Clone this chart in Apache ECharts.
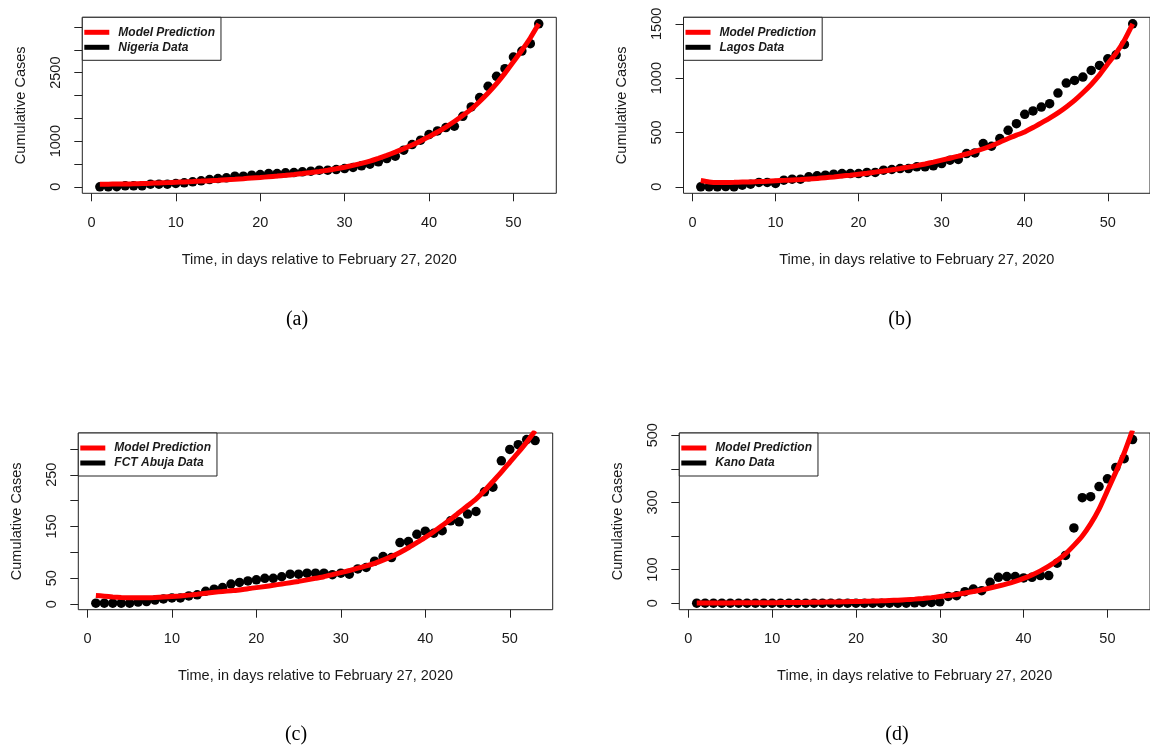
<!DOCTYPE html>
<html><head><meta charset="utf-8">
<script src="https://cdn.jsdelivr.net/npm/echarts@6/dist/echarts.min.js"></script>
<style>html,body{margin:0;padding:0;background:#fff}#c{width:1150px;height:747px}</style>
</head><body><div id="c"></div>
<script>
const days = [1,2,3,4,5,6,7,8,9,10,11,12,13,14,15,16,17,18,19,20,21,22,23,24,25,26,27,28,29,30,31,32,33,34,35,36,37,38,39,40,41,42,43,44,45,46,47,48,49,50,51,52,53];

const nigeriaData = [1,1,2,22,22,22,58,58,58,73,87,109,131,160,182,197,233,233,255,270,292,292,306,313,328,343,365,365,379,401,423,459,496,547,620,671,802,925,1021,1145,1225,1298,1327,1545,1749,1954,2202,2420,2588,2843,2974,3135,3570];
const nigeriaModel = [58,59,61,63,66,72,78,85,92,100,108,116,125,135,145,156,167,179,192,205,220,235,252,270,290,312,336,363,395,430,470,515,565,625,690,760,835,915,1005,1100,1200,1310,1430,1560,1700,1870,2055,2260,2490,2740,2990,3260,3570];

const lagosData = [0,0,0,2,0,15,24,40,40,31,61,70,70,92,101,107,116,122,122,122,132,132,153,159,168,168,184,184,193,214,245,251,306,312,398,373,444,520,581,667,698,734,765,863,955,979,1010,1071,1117,1178,1215,1310,1500];
const lagosModel = [58,45,40,40,41,43,45,48,51,55,59,63,67,72,77,84,91,99,107,116,125,135,145,156,168,181,195,210,227,245,263,282,302,325,350,378,410,444,475,505,545,588,632,680,735,795,865,942,1030,1132,1230,1350,1500];

const abujaData = [2,2,2,2,2,4,5,8,10,12,12,16,18,25,29,32,39,42,45,47,50,50,53,58,58,60,60,60,57,60,58,68,71,83,92,90,119,121,135,141,137,142,161,159,174,179,217,226,277,299,308,318,316];
const abujaModel = [17,15.5,14,13,12.5,12.5,12.5,13,14,15,16,17.5,19,21,23,24.5,26,27.5,30,32,34,36.5,39,41.5,44,47,50,53,57,61,65,69.5,74,79,85,92,100,109,119,129,140,152,164,177,190,203,219,237,255,274,293,313,335];

const kanoData = [0,0,0,0,0,0,0,0,0,0,0,0,0,0,0,0,0,0,0,0,0,0,0,0,0,0,1,2,2,4,20,22,34,42,37,62,77,79,79,75,77,82,82,119,142,224,314,317,347,370,404,430,487];
const kanoModel = [0.5,0.5,0.6,0.7,0.8,0.9,1,1.1,1.2,1.4,1.6,1.8,2,2.3,2.6,3,3.4,3.8,4.3,4.9,5.5,6.2,7,8,9,10.5,12,14,16.5,19.5,22.5,26,30,34.5,39.5,45,51,57.5,65,74,84,96,110,127,147,172,200,236,280,335,390,447,515];

const xTicks = [0,10,20,30,40,50];
const yTicksA = [0,500,1000,1500,2000,2500,3000,3500];
const yLabelsA = [0,1000,2500];
const yTicksB = [0,500,1000,1500];
const yLabelsB = [0,500,1000,1500];
const yTicksC = [0,50,100,150,200,250,300];
const yLabelsC = [0,50,150,250];
const yTicksD = [0,100,200,300,400,500];
const yLabelsD = [0,100,300,500];

const modelName = 'Model Prediction';
const dataNames = ['Nigeria Data','Lagos Data','FCT Abuja Data','Kano Data'];
const captions = ['(a)','(b)','(c)','(d)'];
const xTitle = 'Time, in days relative to February 27, 2020';
const yTitle = 'Cumulative Cases';

const dataSets = [nigeriaData, lagosData, abujaData, kanoData];
const modelSets = [nigeriaModel, lagosModel, abujaModel, kanoModel];
const yTickSets = [yTicksA, yTicksB, yTicksC, yTicksD];
const yLabelSets = [yLabelsA, yLabelsB, yLabelsC, yLabelsD];

// layout (pixels)
const layout = [
  {left:82.3, top:17.3, width:474, height:176, cap:[297,320]},
  {left:683.5, top:17.3, width:475, height:176, cap:[900,320]},
  {left:78.3, top:433, width:474.4, height:176.7, cap:[296,735]},
  {left:679.3, top:433, width:475, height:176.7, cap:[897,735]}
];

function ext(arr){
  const mn = Math.min.apply(null, arr), mx = Math.max.apply(null, arr);
  const d = (mx - mn) * 0.04;
  return [mn - d, mx + d];
}
function plain(v){ return String(v); }
const xr = ext(days);
const FONT = 'Liberation Sans';
const TXT = '#1a1a1a';

const grid = [], xAxis = [], yAxis = [], series = [], legend = [], graphic = [];
layout.forEach(function(L, k){
  grid.push({left:L.left, top:L.top, width:L.width, height:L.height, show:true,
    borderColor:'#222', borderWidth:1, backgroundColor:'transparent', containLabel:false});
  xAxis.push({gridIndex:k, type:'value', min:xr[0], max:xr[1],
    axisLine:{show:false, onZero:false},
    axisTick:{show:true, customValues:xTicks, length:8, lineStyle:{color:'#222', width:1}},
    axisLabel:{show:true, customValues:xTicks, formatter:plain, fontFamily:FONT, fontSize:14.5, color:TXT, margin:22},
    splitLine:{show:false},
    name:xTitle, nameLocation:'middle', nameGap:59,
    nameTextStyle:{fontFamily:FONT, fontSize:14.5, color:TXT}});
  const yr = ext(dataSets[k]);
  yAxis.push({gridIndex:k, type:'value', min:yr[0], max:yr[1],
    axisLine:{show:false, onZero:false},
    axisTick:{show:true, customValues:yTickSets[k], length:8, lineStyle:{color:'#222', width:1}},
    axisLabel:{show:true, customValues:yLabelSets[k], formatter:plain, rotate:90, fontFamily:FONT, fontSize:14.5, color:TXT, margin:19},
    splitLine:{show:false},
    name:yTitle, nameLocation:'middle', nameRotate:90, nameGap:54,
    nameTextStyle:{fontFamily:FONT, fontSize:14.5, color:TXT}});
  series.push({type:'scatter', name:dataNames[k], xAxisIndex:k, yAxisIndex:k,
    data:days.map(function(d,i){return [d, dataSets[k][i]];}),
    symbol:'circle', symbolSize:9.5, itemStyle:{color:'#000', opacity:1}, z:2, silent:true});
  series.push({type:'line', name:modelName, xAxisIndex:k, yAxisIndex:k,
    data:days.map(function(d,i){return [d, modelSets[k][i]];}),
    showSymbol:false, smooth:0.2, clip:true,
    lineStyle:{color:'#ff0000', width:5}, itemStyle:{color:'#ff0000'}, z:3, silent:true});
  legend.push({left:L.left, top:L.top, orient:'vertical', selectedMode:false,
    data:[{name:modelName, icon:'rect', itemStyle:{color:'#ff0000'}},
          {name:dataNames[k], icon:'rect', itemStyle:{color:'#000'}}],
    itemWidth:25, itemHeight:5, itemGap:1, padding:[8,6,6,2],
    borderColor:'#222', borderWidth:1, backgroundColor:'#fff',
    textStyle:{fontFamily:FONT, fontSize:12, fontStyle:'italic', fontWeight:'bold', color:TXT, lineHeight:14, padding:[0,0,0,4]}});
  graphic.push({type:'text', x:L.cap[0], y:L.cap[1],
    style:{text:captions[k], font:'20px "Liberation Serif"', fill:'#000', align:'center', verticalAlign:'middle'}});
});

const chart = echarts.init(document.getElementById('c'), null, {renderer:'canvas'});
chart.setOption({animation:false, backgroundColor:'#fff', grid:grid, xAxis:xAxis, yAxis:yAxis,
  series:series, legend:legend, graphic:graphic});
</script>
</body></html>
